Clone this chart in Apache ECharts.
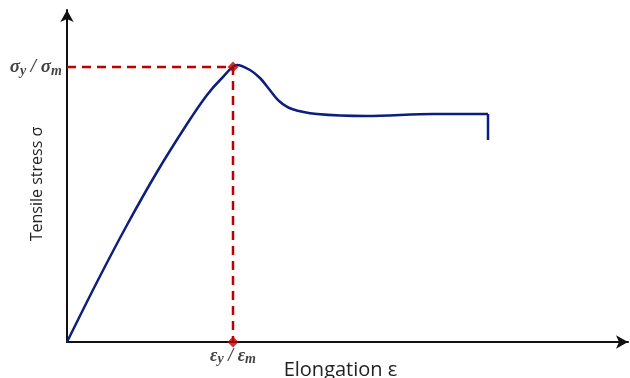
<!DOCTYPE html>
<html><head><meta charset="utf-8">
<script src="https://cdn.jsdelivr.net/npm/echarts@6/dist/echarts.min.js"></script>
<style>html,body{margin:0;padding:0;background:#fff}#c{width:630px;height:378px}</style>
</head><body><div id="c"></div>
<script>
// Stress-strain curve (arbitrary units)
const curveRise = [[0,0],[30,60],[60,117],[90,170],[120,218],[140,247],[155,264],[170,277],[183,272],[193,264],[202,253],[212,241],[225,233],[250,228],[300,226],[366,228],[421,228]];
const curveDrop = [[421,228],[421,202]];
const yieldPoint = [166,275];
const xName = 'Elongation ε';
const yName = 'Tensile stress σ';

const chart = echarts.init(document.getElementById('c'));
const navy = '#0c1f7c', red = '#c00000';
chart.setOption({
  animation:false,
  grid:{left:67, right:2, top:10, bottom:36, outerBoundsMode:'none', containLabel:false},
  xAxis:{type:'value', min:0, max:561, splitLine:{show:false}, axisTick:{show:false}, axisLabel:{show:false},
    axisLine:{lineStyle:{color:'#111', width:2}, symbol:['none','arrow'], symbolSize:[10,12]},
    name:xName, nameLocation:'middle', nameGap:18,
    nameTextStyle:{fontFamily:'Open Sans', fontSize:20, color:'#222', padding:[0,14,0,0]}},
  yAxis:{type:'value', min:0, max:332, splitLine:{show:false}, axisTick:{show:false}, axisLabel:{show:false},
    axisLine:{lineStyle:{color:'#111', width:2}, symbol:['none','arrow'], symbolSize:[10,12]},
    name:yName, nameLocation:'middle', nameGap:22,
    nameTextStyle:{fontFamily:'Open Sans', fontSize:16, color:'#222', padding:[0,16,0,0]}},
  series:[
    {type:'line', data:[[0,yieldPoint[1]],yieldPoint,[yieldPoint[0],0]], symbol:'none',
      lineStyle:{color:red, width:2.5, type:[9,6]}, z:2},
    {type:'line', data:curveRise, smooth:0.3, symbol:'none', lineStyle:{color:navy, width:2.5}, z:3},
    {type:'line', data:curveDrop, symbol:'none', lineStyle:{color:navy, width:2.5}, z:3},
    {type:'scatter', data:[yieldPoint,[yieldPoint[0],0]], symbol:'diamond', symbolSize:11,
      itemStyle:{color:red}, z:4,
      label:{show:true, position:'bottom', distance:-2,
        formatter:p=> p.dataIndex===1 ? '{a|ε}{s|y}{a| / ε}{s|m}' : '',
        rich:{a:{fontFamily:'Liberation Serif', fontStyle:'italic', fontWeight:'bold', fontSize:18, color:'#111'},
              s:{fontFamily:'Liberation Serif', fontStyle:'italic', fontWeight:'bold', fontSize:14, color:'#111', padding:[7,0,0,0]}}}},
    {type:'scatter', data:[[0,yieldPoint[1]]], symbolSize:0, z:4,
      label:{show:true, position:'left', distance:5,
        formatter:'{a|σ}{s|y}{a| / σ}{s|m}',
        rich:{a:{fontFamily:'Liberation Serif', fontStyle:'italic', fontWeight:'bold', fontSize:19, color:'#111'},
              s:{fontFamily:'Liberation Serif', fontStyle:'italic', fontWeight:'bold', fontSize:14, color:'#111', padding:[8,0,0,0]}}}}
  ]
});
</script></body></html>
